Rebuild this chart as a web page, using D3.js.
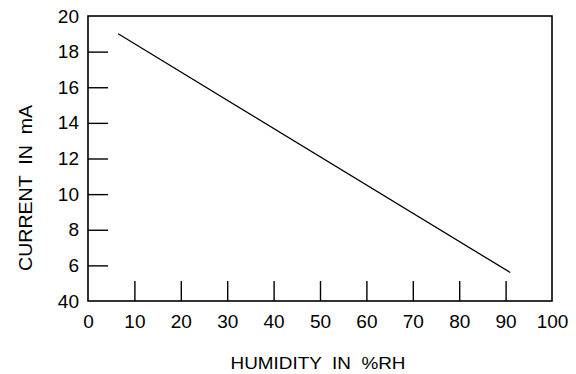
<!DOCTYPE html>
<html>
<head>
<meta charset="utf-8">
<script src="https://cdn.jsdelivr.net/npm/d3@7"></script>
<style>
  body { margin: 0; background: #fff; }
  svg text { font-family: "Liberation Sans", Arial, sans-serif; fill: #000; white-space: pre; }
</style>
</head>
<body>
<svg width="576" height="374"></svg>
<script>
// data
const humidity = [6.5, 91];
const current = [19.0, 5.6];

const xTicks = [0, 10, 20, 30, 40, 50, 60, 70, 80, 90, 100];
const yTicks = [4, 6, 8, 10, 12, 14, 16, 18, 20];
const yTickLabels = ["40", "6", "8", "10", "12", "14", "16", "18", "20"];

const xTitle = "HUMIDITY  IN  %RH";
const yTitle = "CURRENT  IN  mA";

let svg = d3.select("svg");
let margin = { top: 16, right: 24, bottom: 73, left: 88 };
let width = +svg.attr("width") - margin.left - margin.right;
let height = +svg.attr("height") - margin.top - margin.bottom;

let x = d3.scaleLinear().domain([0, 100]).range([0, width]);
let y = d3.scaleLinear().domain([4, 20]).range([height, 0]);

let g = svg.append("g")
  .attr("transform", `translate(${margin.left}, ${margin.top})`);

// frame
g.append("rect")
  .attr("x", 0)
  .attr("y", 0)
  .attr("width", width)
  .attr("height", height)
  .attr("fill", "none")
  .attr("stroke", "#000")
  .attr("stroke-width", 1.6);

// x axis, ticks pointing inside
let xAxis = d3.axisBottom(x)
  .tickValues(xTicks)
  .tickSize(-20)
  .tickPadding(14)
  .tickFormat(d3.format("d"));

let gx = g.append("g")
  .attr("transform", `translate(0, ${height})`)
  .call(xAxis);

// y axis, ticks pointing inside
let yAxis = d3.axisLeft(y)
  .tickValues(yTicks)
  .tickSize(-20)
  .tickPadding(9)
  .tickFormat((d, i) => yTickLabels[i]);

let gy = g.append("g").call(yAxis);

[gx, gy].forEach(a => {
  a.select(".domain").remove();
  a.attr("font-family", null).attr("font-size", null);
  a.selectAll("text").attr("font-size", "19px");
  a.selectAll(".tick line").attr("stroke", "#000").attr("stroke-width", 1.4);
});
// end ticks sit on the frame
gx.selectAll(".tick line").filter(d => d === 0 || d === 100).remove();
gy.selectAll(".tick line").filter(d => d === 4 || d === 20).remove();

// the line
let line = d3.line()
  .x((d, i) => x(humidity[i]))
  .y(d => y(d));

g.append("path")
  .datum(current)
  .attr("fill", "none")
  .attr("stroke", "#000")
  .attr("stroke-width", 1.3)
  .attr("d", line);

// axis titles
svg.append("text")
  .attr("x", margin.left + width / 2 - 2)
  .attr("y", 369)
  .attr("text-anchor", "middle")
  .attr("font-size", "17px")
  .attr("textLength", 175)
  .attr("lengthAdjust", "spacingAndGlyphs")
  .text(xTitle);

svg.append("text")
  .attr("transform", "translate(32, 188) rotate(-90)")
  .attr("text-anchor", "middle")
  .attr("font-size", "18px")
  .attr("textLength", 166)
  .attr("lengthAdjust", "spacingAndGlyphs")
  .text(yTitle);
</script>
</body>
</html>
